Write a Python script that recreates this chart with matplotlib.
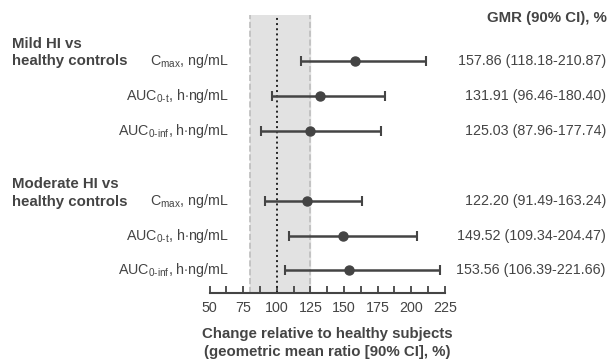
import numpy as np
import matplotlib.pyplot as plt
from matplotlib.ticker import MultipleLocator
from matplotlib.transforms import blended_transform_factory

plt.rcParams['font.family'] = ['Liberation Sans', 'DejaVu Sans']
plt.rcParams['mathtext.fontset'] = 'custom'
plt.rcParams['mathtext.rm'] = 'Liberation Sans'
plt.rcParams['mathtext.it'] = 'Liberation Sans'

# data
groups = ['Mild HI vs\nhealthy controls', 'Moderate HI vs\nhealthy controls']
params = [r'C$_{\mathrm{max}}$, ng/mL',
          r'AUC$_{\mathrm{0\text{-}t}}$, h$\cdot$ng/mL',
          r'AUC$_{\mathrm{0\text{-}inf}}$, h$\cdot$ng/mL']
gmr = [157.86, 131.91, 125.03, 122.20, 149.52, 153.56]
ci_low = [118.18, 96.46, 87.96, 91.49, 109.34, 106.39]
ci_high = [210.87, 180.40, 177.74, 163.24, 204.47, 221.66]
rows = [0, 1, 2, 4, 5, 6]

col = '#444444'
fig = plt.figure(figsize=(6.13, 3.6), dpi=100)
ax = fig.add_axes([0.3418, 0.1875, 0.384, 0.7708])

# bioequivalence band and reference line
ax.axvspan(80, 125, color='#e2e2e2', zorder=0)
for xv in (80, 125):
    ax.axvline(xv, color='#bdbdbd', ls='--', lw=1.2, zorder=1)
ax.axvline(100, color='#222222', ls=':', lw=1.4, zorder=2)

g = np.array(gmr)
ax.errorbar(g, rows, xerr=[g - np.array(ci_low), np.array(ci_high) - g],
            fmt='o', color=col, ms=6.5, elinewidth=1.8, capsize=3.5, capthick=1.5, zorder=3)

right_col = blended_transform_factory(fig.transFigure, ax.transData)
for i, r in enumerate(rows):
    ax.text(64.5, r, params[i % 3], ha='right', va='center', fontsize=10.3, color=col)
    ax.text(606 / 613, r, f'{gmr[i]:.2f} ({ci_low[i]:.2f}-{ci_high[i]:.2f})',
            ha='right', va='center', fontsize=10.3, color=col, transform=right_col)

ax.set_xlim(50, 225)
ax.set_ylim(6.63, -1.31)
ax.xaxis.set_major_locator(MultipleLocator(25))
ax.xaxis.set_minor_locator(MultipleLocator(12.5))
ax.tick_params(axis='x', which='both', direction='in', length=5, width=1.3, color=col,
               labelsize=10.3, labelcolor=col, pad=6)
ax.set_yticks([])
for s in ('top', 'right', 'left'):
    ax.spines[s].set_visible(False)
ax.spines['bottom'].set_color(col)
ax.spines['bottom'].set_linewidth(1.5)
ax.set_xlabel('Change relative to healthy subjects\n(geometric mean ratio [90% CI], %)',
              fontsize=10.8, fontweight='bold', color=col, labelpad=9, linespacing=1.3)

fig.text(12 / 613, 1 - 52.5 / 360, groups[0], ha='left', va='center', fontsize=10.8,
         fontweight='bold', color=col, linespacing=1.32)
fig.text(12 / 613, 1 - 193 / 360, groups[1], ha='left', va='center', fontsize=10.8,
         fontweight='bold', color=col, linespacing=1.32)
fig.text(607 / 613, 1 - 18 / 360, 'GMR (90% CI), %', ha='right', va='center',
         fontsize=10.8, fontweight='bold', color=col)

fig.savefig('out.png', dpi=100)
